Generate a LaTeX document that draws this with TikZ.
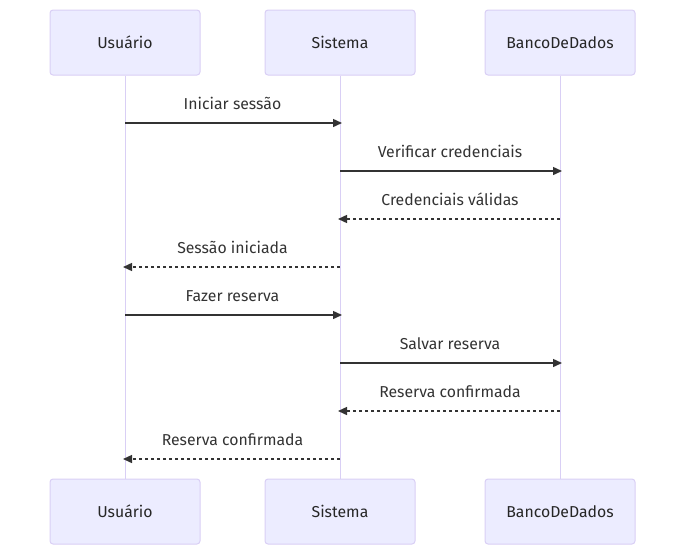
\documentclass[tikz,border=0pt]{standalone}
\usepackage{fontspec}
\setmainfont{Fira Sans}
\usetikzlibrary{arrows.meta}
\definecolor{actfill}{HTML}{ECECFF}
\definecolor{actline}{HTML}{D9CFF5}
\definecolor{msgline}{HTML}{333333}
\begin{document}
\begin{tikzpicture}[x=1pt,y=-1pt,
  actor/.style={draw=actline,fill=actfill,line width=1pt,rounded corners=3pt,minimum width=150pt,minimum height=65pt,inner sep=0pt,font=\fontsize{15.8}{18}\selectfont,text=black!85},
  life/.style={draw=actline,line width=1pt},
  msg/.style={draw=msgline,line width=1.4pt,-{Triangle[length=9pt,width=8pt]},shorten >=-2pt},
  rep/.style={msg,dash pattern=on 3pt off 3pt},
  lbl/.style={font=\fontsize{15.8}{18}\selectfont,text=msgline,inner sep=0pt}]
\useasboundingbox (0,0) rectangle (685,555);
\node[actor] (u1) at (125,42.5) {Usuário};
\node[actor] (s1) at (340,42.5) {Sistema};
\node[actor] (b1) at (560,42.5) {BancoDeDados};
\node[actor] (u2) at (125,511.5) {Usuário};
\node[actor] (s2) at (340,511.5) {Sistema};
\node[actor] (b2) at (560,511.5) {BancoDeDados};
\draw[life] (u1.south) -- (u2.north);
\draw[life] (s1.south) -- (s2.north);
\draw[life] (b1.south) -- (b2.north);
% message anchor coordinates
\foreach \y/\n in {123/1,171/2,219/3,267/4,315/5,363/6,411/7,459/8}{
  \coordinate (u\n) at (125,\y);
  \coordinate (s\n) at (340,\y);
  \coordinate (b\n) at (560,\y);
}
\draw[msg] (u1) -- (s1) node[lbl,midway,above=13pt] (l1) {Iniciar sessão};
\draw[msg] (s2) -- (b2) node[lbl,midway,above=13pt] (l2) {Verificar credenciais};
\draw[rep] (b3) -- (s3) node[lbl,midway,above=13pt] (l3) {Credenciais válidas};
\draw[rep] (s4) -- (u4) node[lbl,midway,above=13pt] (l4) {Sessão iniciada};
\draw[msg] (u5) -- (s5) node[lbl,midway,above=13pt] (l5) {Fazer reserva};
\draw[msg] (s6) -- (b6) node[lbl,midway,above=13pt] (l6) {Salvar reserva};
\draw[rep] (b7) -- (s7) node[lbl,midway,above=13pt] (l7) {Reserva confirmada};
\draw[rep] (s8) -- (u8) node[lbl,midway,above=13pt] (l8) {Reserva confirmada};
\end{tikzpicture}
\end{document}
